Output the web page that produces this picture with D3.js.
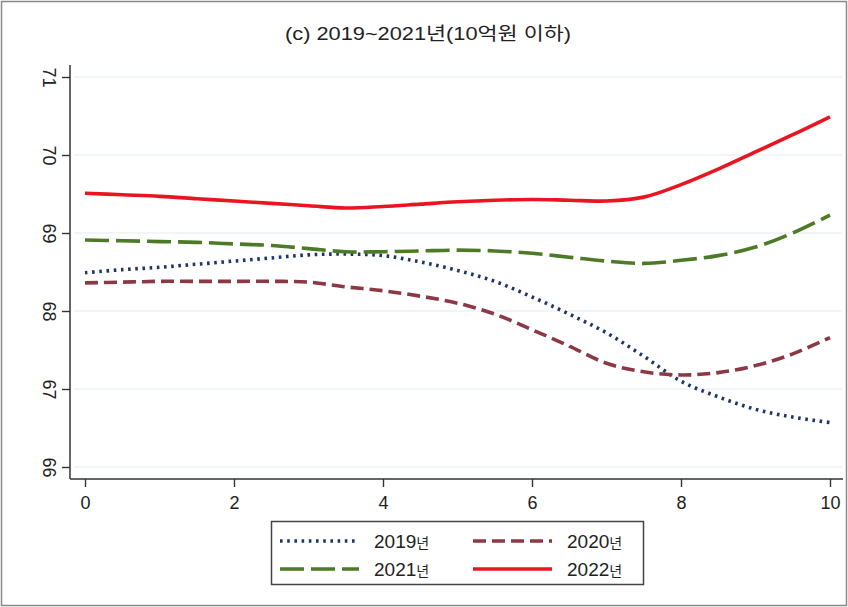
<!DOCTYPE html>
<html>
<head>
<meta charset="utf-8">
<script src="https://cdn.jsdelivr.net/npm/d3@7"></script>
<style>
  html, body { margin: 0; padding: 0; background: #fff; }
  svg { display: block; }
  text { font-family: "Liberation Sans", Arial, "Noto Sans CJK KR", sans-serif; fill: #222; }
</style>
</head>
<body>
<svg id="chart" width="848" height="607"></svg>
<script>
// Horizontal positions (0 to 10) at which each smoothed curve is sampled
const xs = [0, 0.5, 1, 1.5, 2, 2.5, 3, 3.5, 4, 4.5, 5, 5.5, 6, 6.5, 7, 7.5, 8, 8.5, 9, 9.5, 10];

// Smoothed values per year
const y2019 = [68.49, 68.53, 68.56, 68.60, 68.64, 68.68, 68.72, 68.73, 68.71, 68.63, 68.52,
               68.38, 68.18, 67.96, 67.72, 67.42, 67.10, 66.90, 66.74, 66.64, 66.57];
const y2020 = [68.36, 68.37, 68.38, 68.38, 68.38, 68.38, 68.37, 68.31, 68.26, 68.19, 68.10,
               67.96, 67.76, 67.55, 67.33, 67.22, 67.18, 67.21, 67.30, 67.45, 67.66];
const y2021 = [68.91, 68.90, 68.89, 68.88, 68.86, 68.84, 68.80, 68.76, 68.76, 68.77, 68.78,
               68.77, 68.74, 68.69, 68.64, 68.61, 68.65, 68.71, 68.82, 69.00, 69.23];
const y2022 = [69.51, 69.49, 69.47, 69.44, 69.41, 69.38, 69.35, 69.32, 69.34, 69.37, 69.40,
               69.42, 69.43, 69.42, 69.41, 69.46, 69.62, 69.82, 70.04, 70.26, 70.49];

const seriesNames = ["2019년", "2020년", "2021년", "2022년"];
const xTicks = [0, 2, 4, 6, 8, 10];
const yTicks = [66, 67, 68, 69, 70, 71];
const titleText = "(c) 2019~2021년(10억원 이하)";

const styles = [
  { color: "#1c3766", dash: "2.6,4.6" },
  { color: "#8c3845", dash: "13,6" },
  { color: "#4d7a26", dash: "24,7" },
  { color: "#ea1520", dash: null }
];
const seriesValues = [y2019, y2020, y2021, y2022];

const svg = d3.select("#chart");
const W = 848, H = 607;

// outer frame
svg.append("rect")
  .attr("x", 1.5).attr("y", 1.5).attr("width", W - 3).attr("height", H - 3)
  .attr("fill", "#fff").attr("stroke", "#8a8a8a").attr("stroke-width", 1.5);

const x = d3.scaleLinear().domain([0, 10]).range([85, 830]);
const y = d3.scaleLinear().domain([66, 71]).range([467, 77]);

const axisLeftX = 70, axisBottomY = 479;

// title
svg.append("text")
  .attr("x", 428).attr("y", 40)
  .attr("text-anchor", "middle")
  .attr("font-size", 18)
  .attr("textLength", 286)
  .attr("lengthAdjust", "spacingAndGlyphs")
  .text(titleText);

// gridlines
svg.append("g").selectAll("line").data(yTicks).join("line")
  .attr("x1", axisLeftX + 4).attr("x2", 842)
  .attr("y1", d => y(d)).attr("y2", d => y(d))
  .attr("stroke", "#e6ecf0").attr("stroke-width", 1.2);

// y axis (labels turned vertical)
const gy = svg.append("g")
  .attr("transform", `translate(${axisLeftX},0)`)
  .call(d3.axisLeft(y).tickValues(yTicks).tickSize(8).tickPadding(12).tickFormat(d3.format("d")));
gy.select(".domain").remove();
gy.selectAll(".tick line").attr("stroke", "#333").attr("stroke-width", 1.4);
gy.selectAll(".tick text")
  .attr("font-size", 18)
  .attr("font-family", "Liberation Sans, Arial, sans-serif")
  .attr("fill", "#222")
  .attr("x", null).attr("dy", null)
  .attr("text-anchor", "middle")
  .attr("transform", "translate(-27,0) rotate(90)");

svg.append("line")
  .attr("x1", axisLeftX).attr("x2", axisLeftX)
  .attr("y1", 65).attr("y2", axisBottomY)
  .attr("stroke", "#333").attr("stroke-width", 1.5);

// x axis
const gx = svg.append("g")
  .attr("transform", `translate(0,${axisBottomY})`)
  .call(d3.axisBottom(x).tickValues(xTicks).tickSize(8).tickPadding(9).tickFormat(d3.format("d")));
gx.select(".domain").remove();
gx.selectAll(".tick line").attr("stroke", "#333").attr("stroke-width", 1.4);
gx.selectAll(".tick text")
  .attr("font-size", 18)
  .attr("font-family", "Liberation Sans, Arial, sans-serif")
  .attr("fill", "#222");

svg.append("line")
  .attr("x1", axisLeftX).attr("x2", 843)
  .attr("y1", axisBottomY).attr("y2", axisBottomY)
  .attr("stroke", "#333").attr("stroke-width", 1.5);

// curves
const line = d3.line()
  .x((d, i) => x(xs[i]))
  .y(d => y(d))
  .curve(d3.curveCatmullRom.alpha(0.5));

svg.append("g").selectAll("path").data(seriesValues).join("path")
  .attr("d", d => line(d))
  .attr("fill", "none")
  .attr("stroke", (d, i) => styles[i].color)
  .attr("stroke-width", 3.6)
  .attr("stroke-dasharray", (d, i) => styles[i].dash);

// legend
const lg = svg.append("g");
lg.append("rect")
  .attr("x", 271.5).attr("y", 521.5).attr("width", 372).attr("height", 63)
  .attr("fill", "#fff").attr("stroke", "#444").attr("stroke-width", 1.5);

const legendPos = [
  { kx: 280, ty: 541 },
  { kx: 473, ty: 541 },
  { kx: 280, ty: 569 },
  { kx: 473, ty: 569 }
];
seriesNames.forEach((name, i) => {
  const p = legendPos[i];
  lg.append("line")
    .attr("x1", p.kx).attr("x2", p.kx + 79)
    .attr("y1", p.ty).attr("y2", p.ty)
    .attr("stroke", styles[i].color)
    .attr("stroke-width", 3.6)
    .attr("stroke-dasharray", styles[i].dash);
  const t = lg.append("text")
    .attr("x", p.kx + 94).attr("y", p.ty + 7)
    .attr("font-size", 19);
  t.append("tspan").text(name.slice(0, 4));
  t.append("tspan").attr("font-size", 14).attr("font-family", "Noto Sans CJK KR, sans-serif").text(name.slice(4));
});
</script>
</body>
</html>
